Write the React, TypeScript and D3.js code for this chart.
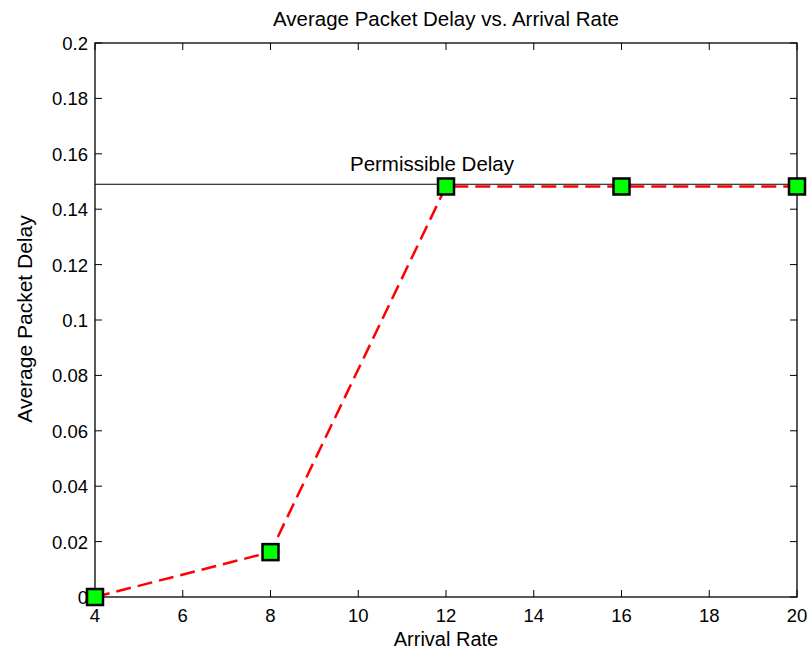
import React from "react"
import * as d3 from "d3"

const arrivalRates = [4, 8, 12, 16, 20]
const avgDelays = [0, 0.0162, 0.1482, 0.1482, 0.1482]
const permissibleDelay = 0.149
const xTicks = [4, 6, 8, 10, 12, 14, 16, 18, 20]
const yTicks = [0, 0.02, 0.04, 0.06, 0.08, 0.1, 0.12, 0.14, 0.16, 0.18, 0.2]

const W = 808
const H = 654
const margin = { left: 95, right: 11, top: 43, bottom: 57 }
const font = "'Liberation Sans', Arial, sans-serif"

export default function App() {
    const x = d3.scaleLinear().domain([4, 20]).range([margin.left, W - margin.right])
    const y = d3.scaleLinear().domain([0, 0.2]).range([H - margin.bottom, margin.top])

    const line = d3.line<number>()
        .x((d, i) => x(arrivalRates[i]))
        .y(d => y(d))

    const x0 = x.range()[0], x1 = x.range()[1]
    const y0 = y.range()[0], y1 = y.range()[1]
    const tickLen = 7
    const fmt = (v: number) => v === 0 ? "0" : d3.format("~g")(v)
    const ms = 16

    return (
        <svg width={W} height={H} style={{ position: "absolute", left: 0, top: 0, background: "#fff" }}
            fontFamily={font}>
            <rect x={0} y={0} width={W} height={H} fill="#fff" />
            {/* ticks */}
            {xTicks.map(t => (
                <g key={"x" + t}>
                    <line x1={x(t)} x2={x(t)} y1={y0} y2={y0 - tickLen} stroke="#000" />
                    <line x1={x(t)} x2={x(t)} y1={y1} y2={y1 + tickLen} stroke="#000" />
                    <text x={x(t)} y={y0 + 25} textAnchor="middle" fontSize={18.5}>{t}</text>
                </g>
            ))}
            {yTicks.map(t => (
                <g key={"y" + t}>
                    <line x1={x0} x2={x0 + tickLen} y1={y(t)} y2={y(t)} stroke="#000" />
                    <line x1={x1} x2={x1 - tickLen} y1={y(t)} y2={y(t)} stroke="#000" />
                    <text x={x0 - 7} y={y(t) + 7} textAnchor="end" fontSize={18.5}>{fmt(t)}</text>
                </g>
            ))}
            <rect x={x0} y={y1} width={x1 - x0} height={y0 - y1} fill="none" stroke="#000" strokeWidth={1.3} />

            {/* permissible delay */}
            <line x1={x0} x2={x1} y1={y(permissibleDelay)} y2={y(permissibleDelay)} stroke="#000" strokeWidth={1.2} />
            <text x={432} y={y(permissibleDelay) - 13} textAnchor="middle" fontSize={20.5}>Permissible Delay</text>

            {/* data */}
            <path d={line(avgDelays) || ""} fill="none" stroke="#ff0000" strokeWidth={2.5} strokeDasharray="15,7" />
            {avgDelays.map((d, i) => (
                <rect key={i} x={x(arrivalRates[i]) - ms / 2} y={y(d) - ms / 2} width={ms} height={ms}
                    fill="#00ff00" stroke="#000" strokeWidth={2.5} />
            ))}

            <text x={(x0 + x1) / 2} y={26} textAnchor="middle" fontSize={20.5}>Average Packet Delay vs. Arrival Rate</text>
            <text x={(x0 + x1) / 2} y={646} textAnchor="middle" fontSize={20}>Arrival Rate</text>
            <text transform={`translate(32, ${(y0 + y1) / 2 - 1}) rotate(-90)`} textAnchor="middle" fontSize={21}>Average Packet Delay</text>
        </svg>
    )
}
